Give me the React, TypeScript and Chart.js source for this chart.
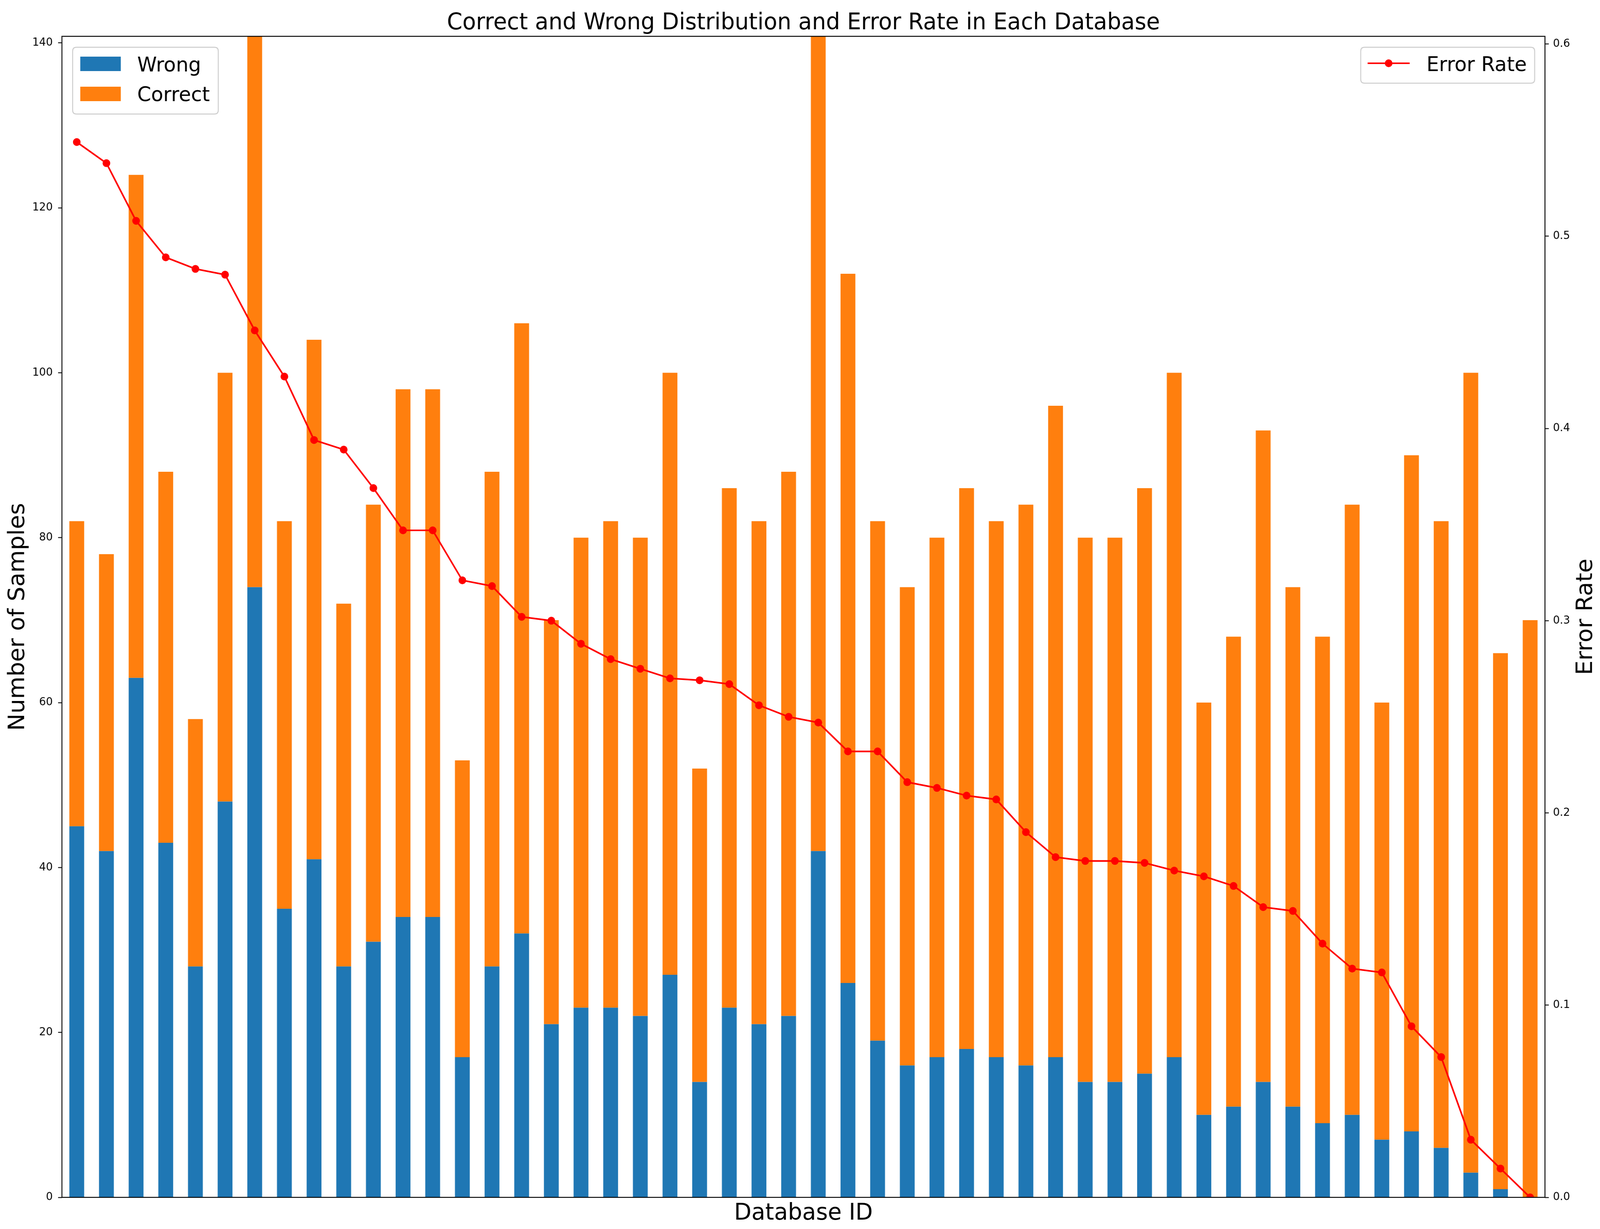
import React, { useEffect, useRef, useState } from 'react';
import { Chart, registerables } from 'chart.js';

Chart.register(...registerables);

const W = 4186;
const H = 3147;
const FONT = '"DejaVu Sans", sans-serif';

// x labels are hidden in the picture, one id per bar
const databaseIds: string[] = Array.from({ length: 50 }, (_, i) => `db_${i + 1}`);

const wrongCounts = [
    45, 42, 63, 43, 28, 48, 74, 35, 41, 28, 31, 34, 34, 17, 28, 32, 21, 23, 23, 22, 27, 14, 23, 21, 22,
    42, 26, 19, 16, 17, 18, 17, 16, 17, 14, 14, 15, 17, 10, 11, 14, 11, 9, 10, 7, 8, 6, 3, 1, 0,
];

const correctCounts = [
    37, 36, 61, 45, 30, 52, 90, 47, 63, 44, 53, 64, 64, 36, 60, 74, 49, 57, 59, 58, 73, 38, 63, 61, 66,
    128, 86, 63, 58, 63, 68, 65, 68, 79, 66, 66, 71, 83, 50, 57, 79, 63, 59, 74, 53, 82, 76, 97, 65, 70,
];

const errorRates = [
    0.549, 0.538, 0.508, 0.489, 0.483, 0.48, 0.451, 0.427, 0.394, 0.389, 0.369, 0.347, 0.347, 0.321,
    0.318, 0.302, 0.3, 0.288, 0.28, 0.275, 0.27, 0.269, 0.267, 0.256, 0.25, 0.247, 0.232, 0.232, 0.216,
    0.213, 0.209, 0.207, 0.19, 0.177, 0.175, 0.175, 0.174, 0.17, 0.167, 0.162, 0.151, 0.149, 0.132,
    0.119, 0.117, 0.089, 0.073, 0.03, 0.015, 0,
];

const BLUE = '#1f77b4';
const ORANGE = '#ff7f0e';
const RED = '#ff0000';

function roundRect(ctx: CanvasRenderingContext2D, x: number, y: number, w: number, h: number, r: number) {
    ctx.beginPath();
    ctx.moveTo(x + r, y);
    ctx.lineTo(x + w - r, y);
    ctx.quadraticCurveTo(x + w, y, x + w, y + r);
    ctx.lineTo(x + w, y + h - r);
    ctx.quadraticCurveTo(x + w, y + h, x + w - r, y + h);
    ctx.lineTo(x + r, y + h);
    ctx.quadraticCurveTo(x, y + h, x, y + h - r);
    ctx.lineTo(x, y + r);
    ctx.quadraticCurveTo(x, y, x + r, y);
    ctx.closePath();
}

function legendFrame(ctx: CanvasRenderingContext2D, x: number, y: number, w: number, h: number) {
    roundRect(ctx, x, y, w, h, 10);
    ctx.fillStyle = 'rgba(255,255,255,0.8)';
    ctx.fill();
    ctx.strokeStyle = '#cccccc';
    ctx.lineWidth = 2.5;
    ctx.stroke();
}

// frame, titles and the two legends, drawn matplotlib-style
const overlay = {
    id: 'overlay',
    afterDraw(chart: Chart) {
        const { ctx, chartArea: a } = chart;
        ctx.save();

        ctx.strokeStyle = '#000';
        ctx.lineWidth = 2.4;
        ctx.strokeRect(a.left, a.top, a.right - a.left, a.bottom - a.top);

        const cx = (a.left + a.right) / 2;
        const cy = (a.top + a.bottom) / 2;
        ctx.fillStyle = '#000';
        ctx.textAlign = 'center';
        ctx.textBaseline = 'alphabetic';

        ctx.font = `58px ${FONT}`;
        ctx.fillText('Correct and Wrong Distribution and Error Rate in Each Database', cx, 75);
        ctx.font = `59px ${FONT}`;
        ctx.fillText('Database ID', cx, 3123);

        ctx.save();
        ctx.translate(63, cy);
        ctx.rotate(-Math.PI / 2);
        ctx.fillText('Number of Samples', 0, 0);
        ctx.restore();

        ctx.save();
        ctx.translate(4165, cy);
        ctx.rotate(-Math.PI / 2);
        ctx.fillText('Error Rate', 0, 0);
        ctx.restore();

        // left legend
        const lx = a.left + 28;
        const ly = a.top + 28;
        legendFrame(ctx, lx, ly, 381, 171);
        ctx.fillStyle = BLUE;
        ctx.fillRect(lx + 20, ly + 24, 106, 37);
        ctx.fillStyle = ORANGE;
        ctx.fillRect(lx + 20, ly + 101, 106, 37);
        ctx.fillStyle = '#000';
        ctx.font = `52px ${FONT}`;
        ctx.textAlign = 'left';
        ctx.fillText('Wrong', lx + 169, ly + 62);
        ctx.fillText('Correct', lx + 169, ly + 138);

        // right legend
        const rx = a.right - 482;
        const ry = a.top + 28;
        legendFrame(ctx, rx, ry, 455, 92);
        ctx.strokeStyle = RED;
        ctx.lineWidth = 4.2;
        ctx.beginPath();
        ctx.moveTo(rx + 18, ry + 41);
        ctx.lineTo(rx + 128, ry + 41);
        ctx.stroke();
        ctx.fillStyle = RED;
        ctx.beginPath();
        ctx.arc(rx + 73, ry + 41, 10, 0, Math.PI * 2);
        ctx.fill();
        ctx.fillStyle = '#000';
        ctx.fillText('Error Rate', rx + 172, ry + 61);

        ctx.restore();
    },
};

const App: React.FC = () => {
    const chartRef = useRef<HTMLCanvasElement | null>(null);
    // the window may be narrower than the figure: draw at full size, show scaled to fit
    const [shownWidth] = useState(() => Math.min(W, window.innerWidth || W));

    useEffect(() => {
        if (!chartRef.current) return;

        const tickFont = { family: FONT, size: 28 };

        const myChart = new Chart(chartRef.current, {
            type: 'bar',
            data: {
                labels: databaseIds,
                datasets: [
                    {
                        type: 'line',
                        label: 'Error Rate',
                        data: errorRates,
                        yAxisID: 'y1',
                        borderColor: RED,
                        backgroundColor: RED,
                        borderWidth: 4.2,
                        pointRadius: 10,
                        pointBorderWidth: 0,
                        pointBackgroundColor: RED,
                        tension: 0,
                        clip: 0,
                        order: 0,
                    },
                    {
                        label: 'Wrong',
                        data: wrongCounts,
                        yAxisID: 'y',
                        backgroundColor: BLUE,
                        borderWidth: 0,
                        clip: 0,
                        order: 1,
                    },
                    {
                        label: 'Correct',
                        data: correctCounts,
                        yAxisID: 'y',
                        backgroundColor: ORANGE,
                        borderWidth: 0,
                        clip: 0,
                        order: 1,
                    },
                ] as any,
            },
            options: {
                responsive: false,
                animation: false,
                devicePixelRatio: 1,
                layout: { padding: { top: 93, left: 0, right: 0, bottom: 0 } },
                datasets: { bar: { categoryPercentage: 1, barPercentage: 0.5 } },
                plugins: {
                    legend: { display: false },
                    title: { display: false },
                    tooltip: { enabled: false },
                },
                scales: {
                    x: {
                        stacked: true,
                        offset: true,
                        ticks: { display: false },
                        grid: { display: false },
                        border: { display: false },
                        afterFit: (scale: any) => {
                            scale.height = 81;
                        },
                    },
                    y: {
                        position: 'left',
                        stacked: true,
                        min: 0,
                        max: 140.8,
                        ticks: {
                            stepSize: 20,
                            includeBounds: false,
                            padding: 14,
                            color: '#000',
                            font: tickFont,
                        },
                        grid: {
                            drawOnChartArea: false,
                            drawTicks: true,
                            tickLength: 10,
                            tickColor: '#000',
                            tickWidth: 2.2,
                        },
                        border: { display: false },
                        afterFit: (scale: any) => {
                            scale.width = 162;
                        },
                    },
                    y1: {
                        position: 'right',
                        min: 0,
                        max: 0.604,
                        ticks: {
                            stepSize: 0.1,
                            includeBounds: false,
                            padding: 11,
                            color: '#000',
                            font: tickFont,
                            callback: (v: any) => Number(v).toFixed(1),
                        },
                        grid: {
                            drawOnChartArea: false,
                            drawTicks: true,
                            tickLength: 10,
                            tickColor: '#000',
                            tickWidth: 2.2,
                        },
                        border: { display: false },
                        afterFit: (scale: any) => {
                            scale.width = 144;
                        },
                    },
                },
            } as any,
            plugins: [overlay],
        });

        return () => {
            myChart.destroy();
        };
    }, []);

    return (
        <div style={{ position: 'absolute', left: 0, top: 0, width: shownWidth, height: H, background: '#fff' }}>
            <canvas
                ref={chartRef}
                width={W}
                height={H}
                style={{ width: shownWidth, height: H, display: 'block' }}
            />
        </div>
    );
};

export default App;
